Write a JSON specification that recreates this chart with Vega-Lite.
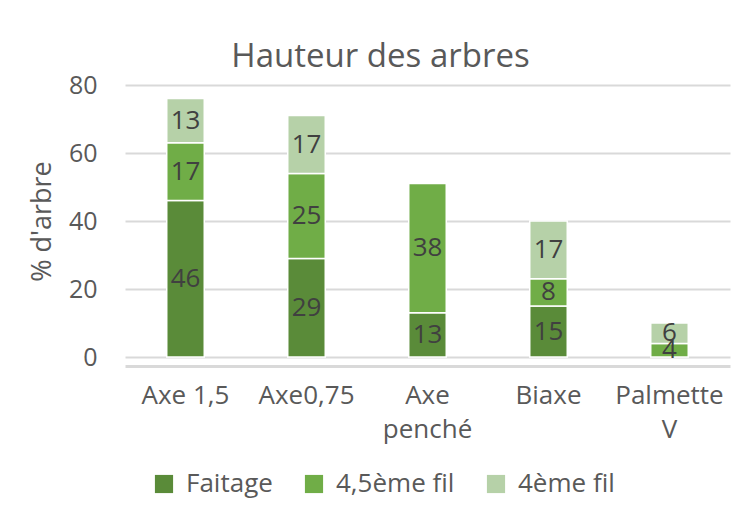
{
  "$schema": "https://vega.github.io/schema/vega-lite/v6.json",
  "width": 605,
  "height": 272,
  "autosize": "none",
  "padding": {"left": 125, "top": 85, "right": 21, "bottom": 160},
  "background": "white",
  "title": {"text": "Hauteur des arbres", "fontSize": 33, "font": "Open Sans", "fontWeight": "normal", "color": "#595959", "anchor": "middle", "dx": -47, "dy": 9, "offset": 8},
  "data": {"values": [
    {"cat": "Axe 1,5", "serie": "Faitage", "ordre": 1, "val": 46},
    {"cat": "Axe 1,5", "serie": "4,5ème fil", "ordre": 2, "val": 17},
    {"cat": "Axe 1,5", "serie": "4ème fil", "ordre": 3, "val": 13},
    {"cat": "Axe0,75", "serie": "Faitage", "ordre": 1, "val": 29},
    {"cat": "Axe0,75", "serie": "4,5ème fil", "ordre": 2, "val": 25},
    {"cat": "Axe0,75", "serie": "4ème fil", "ordre": 3, "val": 17},
    {"cat": "Axe penché", "serie": "Faitage", "ordre": 1, "val": 13},
    {"cat": "Axe penché", "serie": "4,5ème fil", "ordre": 2, "val": 38},
    {"cat": "Biaxe", "serie": "Faitage", "ordre": 1, "val": 15},
    {"cat": "Biaxe", "serie": "4,5ème fil", "ordre": 2, "val": 8},
    {"cat": "Biaxe", "serie": "4ème fil", "ordre": 3, "val": 17},
    {"cat": "Palmette V", "serie": "4,5ème fil", "ordre": 2, "val": 4},
    {"cat": "Palmette V", "serie": "4ème fil", "ordre": 3, "val": 6}
  ]},
  "transform": [
    {"stack": "val", "groupby": ["cat"], "sort": [{"field": "ordre", "order": "ascending"}], "as": ["y0", "y1"]},
    {"calculate": "(datum.y0 + datum.y1) / 2", "as": "ymid"}
  ],
  "encoding": {
    "x": {
      "field": "cat", "type": "nominal", "sort": ["Axe 1,5", "Axe0,75", "Axe penché", "Biaxe", "Palmette V"],
      "scale": {"paddingInner": 0.69, "paddingOuter": 0.345},
      "axis": {
        "title": null, "labelAngle": 0, "labelFont": "Open Sans", "labelFontSize": 26, "labelColor": "#595959",
        "labelPadding": 16, "labelLineHeight": 34, "labelBaseline": "top",
        "labelExpr": "datum.label == 'Axe penché' ? ['Axe', 'penché'] : datum.label == 'Palmette V' ? ['Palmette', 'V'] : datum.label",
        "ticks": false, "domainColor": "#D9D9D9", "domainWidth": 3, "offset": 9, "grid": false
      }
    }
  },
  "layer": [
    {
      "mark": {"type": "bar", "stroke": "white", "strokeWidth": 1.5},
      "encoding": {
        "y": {"field": "y0", "type": "quantitative",
          "scale": {"domain": [0, 80]},
          "axis": {"title": "% d'arbre", "titleFont": "Open Sans", "titleFontSize": 27, "titleFontWeight": "normal", "titleColor": "#595959", "titlePadding": 12,
            "values": [0, 20, 40, 60, 80], "labelFont": "Open Sans", "labelFontSize": 25, "labelColor": "#595959", "labelPadding": 28,
            "domain": false, "ticks": false, "gridColor": "#D9D9D9", "gridWidth": 2}},
        "y2": {"field": "y1"},
        "color": {"field": "serie", "type": "nominal",
          "scale": {"domain": ["Faitage", "4,5ème fil", "4ème fil"], "range": ["#5A8B39", "#70AD47", "#B6D1A8"]},
          "legend": {"title": null, "orient": "none", "direction": "horizontal", "legendX": 26, "legendY": 386,
            "symbolType": "square", "symbolSize": 330, "symbolStrokeWidth": 0, "labelFont": "Open Sans", "labelFontSize": 26, "labelColor": "#595959",
            "labelOffset": 9, "columnPadding": 28}}
      }
    },
    {
      "mark": {"type": "text", "font": "Open Sans", "fontSize": 26, "color": "#404040"},
      "encoding": {
        "y": {"field": "ymid", "type": "quantitative"},
        "text": {"field": "val", "type": "quantitative"}
      }
    }
  ],
  "config": {"view": {"stroke": null}}
}
